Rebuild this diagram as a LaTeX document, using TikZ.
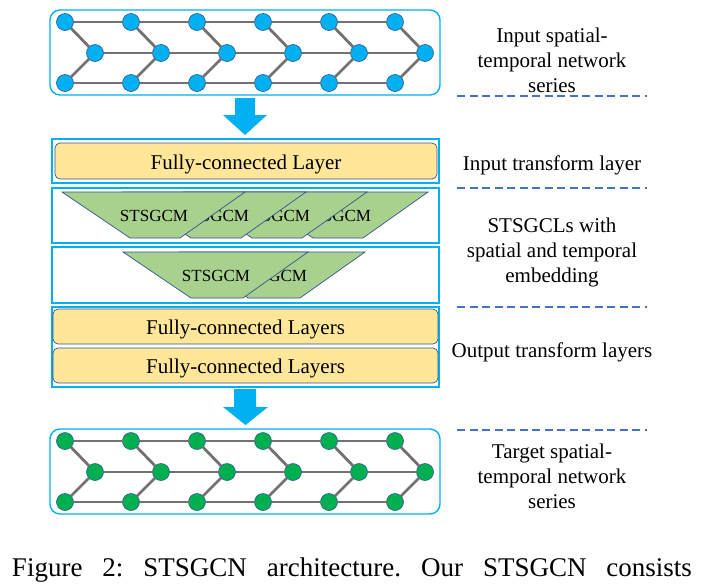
\documentclass[tikz,border=0pt]{standalone}
\usepackage{fontspec}
\setmainfont{Liberation Serif}
\definecolor{skyb}{RGB}{0,176,240}
\definecolor{rimb}{RGB}{47,85,151}
\definecolor{linkg}{RGB}{118,113,113}
\definecolor{leafg}{RGB}{0,176,80}
\definecolor{fcyel}{RGB}{255,230,153}
\definecolor{cmgreen}{RGB}{169,209,142}
\definecolor{sepb}{RGB}{68,114,196}

\begin{document}
\begin{tikzpicture}[x=1pt,y=-1pt,every node/.style={inner sep=0,outer sep=0},
	vtx/.style={circle,draw=rimb,line width=.6,minimum size=17},
	lnk/.style={draw=linkg,line width=2.8},
	netbox/.style={draw=skyb,line width=1.4,rounded corners=10},
	layerbox/.style={draw=skyb,line width=2.8},
	fc/.style={draw=rimb,fill=fcyel,line width=.7,rounded corners=5,text height=17,text depth=1,font=\fontsize{21}{25}\selectfont},
	cmshape/.style={draw=rimb,fill=cmgreen,line width=.7},
	cmtext/.style={font=\fontsize{17}{20}\selectfont},
	lbl/.style={align=center,font=\fontsize{21}{25}\selectfont},
	sep/.style={draw=sepb,line width=1.8,dash pattern=on 8 off 4.5},
	bigarrow/.style={fill=skyb}]
	\useasboundingbox (0,0) rectangle (702,587);
	\begin{scope}[vtx/.append style={fill=skyb}]
	\draw[netbox] (50,10) rectangle (440,95);
	\foreach \i in {0,...,5}{
		\node[vtx] (t\i) at ({65+66*\i},22) {};
		\node[vtx] (m\i) at ({95+66*\i},53) {};
		\node[vtx] (b\i) at ({65+66*\i},83) {};
		\draw[lnk] (t\i) -- (m\i);
		\draw[lnk] (b\i) -- (m\i);
	}
	\foreach \i [count=\j from 1] in {0,...,4}{
		\draw[lnk] (t\i) -- (t\j);
		\draw[lnk] (m\i) -- (m\j);
		\draw[lnk] (b\i) -- (b\j);
	}
	\end{scope}
	\fill[bigarrow] (235,98) -- (255,98) -- (255,115) -- (267,115) -- (245,135) -- (223,115) -- (235,115) -- cycle;
	\draw[layerbox] (52,139) rectangle (439,183);
	\node[fc,minimum width=382,minimum height=36] (fc0) at (246,161) {Fully-connected Layer};
	\foreach \i in {3,2,1,0}{
		\draw[cmshape] ({62+61*\i},192) -- ++(183,0) -- ++(-65,46) -- ++(-50,0) -- cycle;
		\node[cmtext] (ca\i) at ({154+61*\i},215.5) {STSGCM};
	}
	\draw[layerbox] (52,188) rectangle (439,243);
	\foreach \i in {1,0}{
		\draw[cmshape] ({123+57*\i},252) -- ++(185,0) -- ++(-65,46) -- ++(-52,0) -- cycle;
		\node[cmtext] (cb\i) at ({216+57*\i},275.5) {STSGCM};
	}
	\draw[layerbox] (52,247) rectangle (439,303);
	\draw[layerbox] (52,307) rectangle (439,387);
	\node[fc,minimum width=385,minimum height=35] (fc1) at (245.5,326.5) {Fully-connected Layers};
	\node[fc,minimum width=385,minimum height=35] (fc2) at (245.5,365.5) {Fully-connected Layers};
	\fill[bigarrow] (234,389) -- (256,389) -- (256,407) -- (268,407) -- (245.5,425) -- (223,407) -- (234,407) -- cycle;
	\begin{scope}[shift={(0,419)},vtx/.append style={fill=leafg}]
	\draw[netbox] (50,10) rectangle (440,95);
	\foreach \i in {0,...,5}{
		\node[vtx] (t\i) at ({65+66*\i},22) {};
		\node[vtx] (m\i) at ({95+66*\i},53) {};
		\node[vtx] (b\i) at ({65+66*\i},83) {};
		\draw[lnk] (t\i) -- (m\i);
		\draw[lnk] (b\i) -- (m\i);
	}
	\foreach \i [count=\j from 1] in {0,...,4}{
		\draw[lnk] (t\i) -- (t\j);
		\draw[lnk] (m\i) -- (m\j);
		\draw[lnk] (b\i) -- (b\j);
	}
	\end{scope}
	\node[lbl] (inlbl) at (552,60) {Input spatial-\\temporal network\\series};
	\node[lbl] (itlbl) at (552,165.5) {Input transform layer};
	\node[lbl] (stlbl) at (552,252) {STSGCLs with\\spatial and temporal\\embedding};
	\node[lbl] (otlbl) at (552,352.5) {Output transform layers};
	\node[lbl] (tglbl) at (552,476) {Target spatial-\\temporal network\\series};
	\foreach \y in {96,188,307,430}
		\draw[sep] (457,\y) -- (647,\y);
	\node[anchor=base west,font=\fontsize{27}{33}\selectfont] (cap) at (12,576) {\frenchspacing\makebox[680pt][s]{Figure 2: STSGCN architecture. Our STSGCN consists}};
\end{tikzpicture}
\end{document}
